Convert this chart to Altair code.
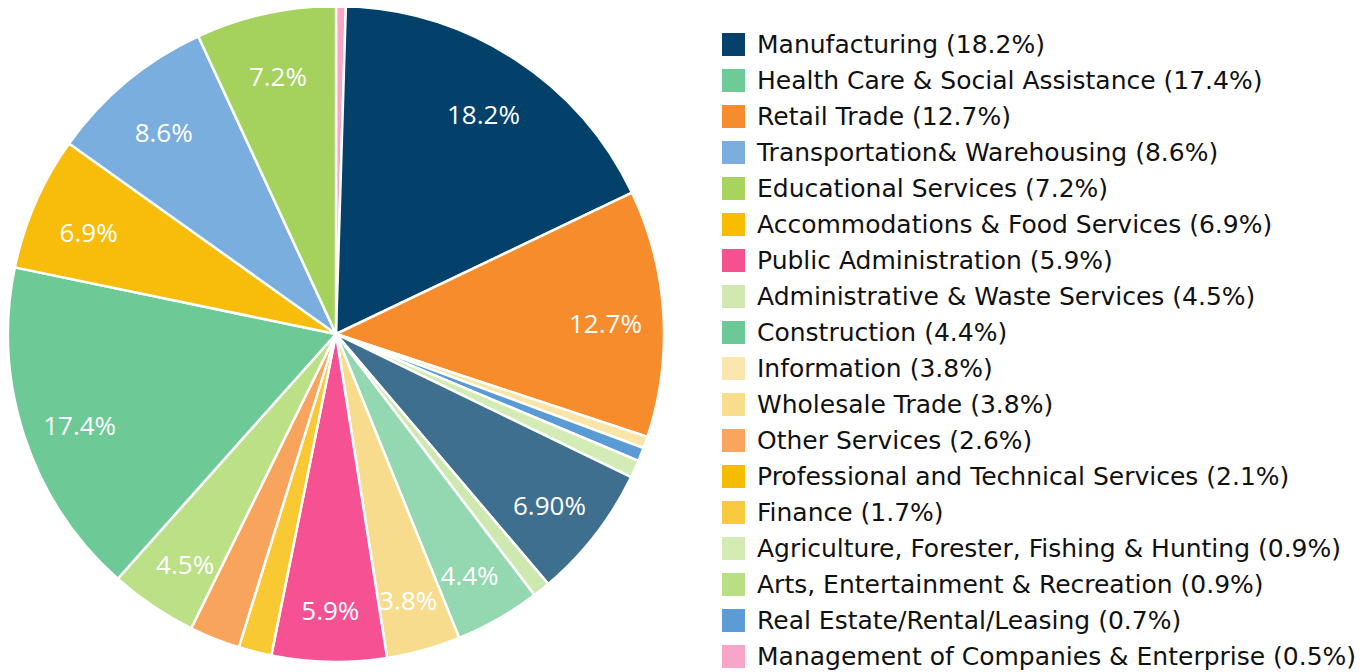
import altair as alt
import pandas as pd

# Pie slices, clockwise from 12 o'clock
slice_keys = ["Management", "Manufacturing", "Retail", "Information", "RealEstate",
              "Agriculture", "Unlisted", "Arts", "Construction", "Wholesale",
              "PublicAdmin", "Finance", "OtherServices", "Administrative",
              "HealthCare", "Accommodations", "Transportation", "Educational"]
slice_values = [0.5, 18.2, 12.7, 0.6, 0.7, 0.9, 6.9, 0.9, 4.4, 3.8,
                5.9, 1.7, 2.6, 4.5, 17.4, 6.9, 8.6, 7.2]
slice_labels = ["", "18.2%", "12.7%", "", "", "", "6.90%", "", "4.4%", "3.8%",
                "5.9%", "", "", "4.5%", "17.4%", "6.9%", "8.6%", "7.2%"]
slice_colors = ["#f7a6c6", "#03416a", "#f68c2c", "#fae5a8", "#5b9bd5",
                "#d3ecb5", "#3f6f8f", "#cde9b0", "#93d8b0", "#f7dc8e",
                "#f55193", "#f9c933", "#f9a45c", "#bbe086", "#6dc995",
                "#f7bd0a", "#79aede", "#a5d25c"]

# Legend entries (as listed on the right)
legend_names = ["Manufacturing (18.2%)",
                "Health Care & Social Assistance (17.4%)",
                "Retail Trade (12.7%)",
                "Transportation& Warehousing (8.6%)",
                "Educational Services (7.2%)",
                "Accommodations & Food Services (6.9%)",
                "Public Administration (5.9%)",
                "Administrative & Waste Services (4.5%)",
                "Construction (4.4%)",
                "Information (3.8%)",
                "Wholesale Trade (3.8%)",
                "Other Services (2.6%)",
                "Professional and Technical Services (2.1%)",
                "Finance (1.7%)",
                "Agriculture, Forester, Fishing & Hunting (0.9%)",
                "Arts, Entertainment & Recreation (0.9%)",
                "Real Estate/Rental/Leasing (0.7%)",
                "Management of Companies & Enterprise (0.5%)"]
legend_colors = ["#06406b", "#6ecb97", "#f68c2e", "#7badde", "#a6d45d",
                 "#f9bd00", "#f5508f", "#d0e9b0", "#6cc896", "#fae6ae",
                 "#f8dd8c", "#f9a55e", "#f5bc00", "#f9ca3b", "#d5ebb6",
                 "#b9df84", "#5c9bd6", "#f7a5c8"]

pie_df = pd.DataFrame({
    "key": slice_keys,
    "value": slice_values,
    "label": slice_labels,
    "idx": list(range(len(slice_keys))),
})
legend_df = pd.DataFrame({"entry": legend_names})

base = alt.Chart(pie_df).encode(
    theta=alt.Theta("value:Q", stack=True),
    order=alt.Order("idx:Q"),
)

arcs = base.mark_arc(stroke="white", strokeWidth=2.5).encode(
    color=alt.Color("key:N", scale=alt.Scale(domain=slice_keys, range=slice_colors),
                    legend=None)
)

labels = base.mark_text(radius=270, dy=8, fontSize=26, font="Open Sans",
                        color="white").encode(text="label:N")

legend_layer = alt.Chart(legend_df).mark_square(opacity=0).encode(
    color=alt.Color("entry:N",
                    scale=alt.Scale(domain=legend_names, range=legend_colors),
                    legend=alt.Legend(title=None, orient="none", legendX=713,
                                      legendY=26, direction="vertical",
                                      symbolType="square", symbolSize=529,
                                      symbolStrokeWidth=0, symbolOpacity=1,
                                      labelFont="DejaVu Sans", labelFontSize=25,
                                      labelColor="#111111", labelLimit=900,
                                      labelOffset=11, rowPadding=10.0, padding=0))
)

chart = alt.layer(arcs, labels, legend_layer).resolve_scale(
    color="independent"
).properties(
    width=656, height=656,
    padding={"left": -5, "top": -7, "right": 0, "bottom": 0}
).configure_view(stroke=None)

chart.save("out.html", embed_options={"renderer": "svg", "actions": False})
